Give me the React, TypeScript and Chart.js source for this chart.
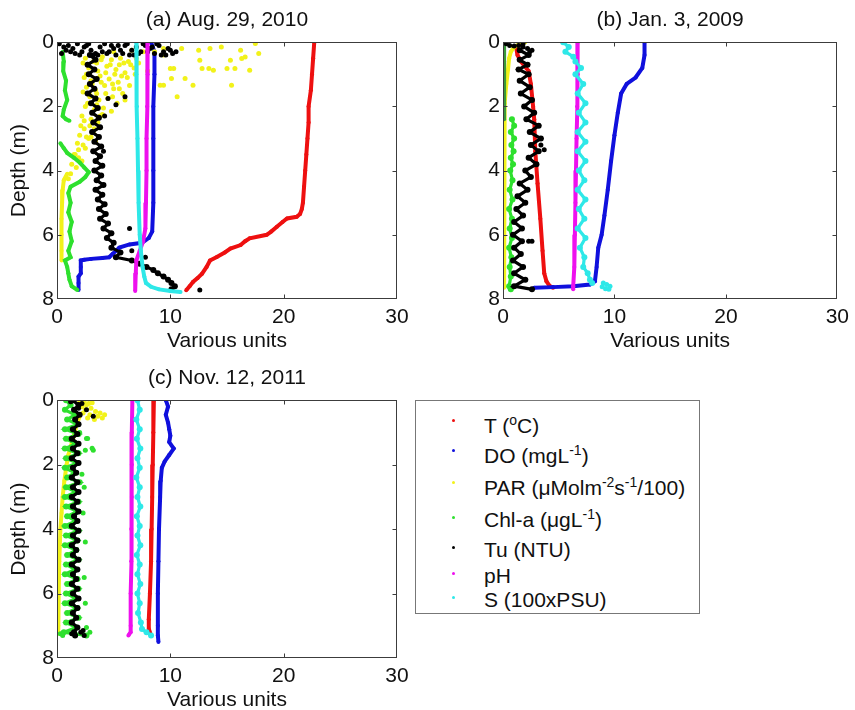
import React, { useEffect, useRef } from "react";
import { Chart, registerables } from "chart.js";
Chart.register(...registerables);

const FONT = '"Liberation Sans", Arial, Helvetica, sans-serif';

// ---------- axes ----------
const X_TICKS = [0, 10, 20, 30];
const Y_TICKS = [0, 2, 4, 6, 8];
const X_LABEL = "Various units";
const Y_LABEL = "Depth (m)";
const TITLES = ["(a) Aug. 29, 2010", "(b) Jan. 3, 2009", "(c) Nov. 12, 2011"];

// ---------- colours ----------
const C_T = "#ee1010";
const C_DO = "#1010dd";
const C_PAR = "#f2f21a";
const C_CHL = "#2ee02e";
const C_CHL_DARK = "#3a9a3a";
const C_TU = "#000000";
const C_PH = "#ee10ee";
const C_S = "#2ee8e8";

const LEGEND_COLORS = [C_T, C_DO, C_PAR, C_CHL, C_TU, C_PH, C_S];

// ================= Panel (a) Aug. 29, 2010 =================
const aT_depth = [0, 0.5, 1, 1.5, 2, 2.5, 3, 3.5, 4, 4.5, 5, 5.2, 5.35, 5.44, 5.49, 5.6, 5.75, 5.9, 6.0, 6.11, 6.2, 6.32, 6.43, 6.55, 6.69, 6.8, 7.0, 7.21, 7.35, 7.47, 7.6, 7.73];
const aT_val = [22.7, 22.6, 22.5, 22.4, 22.2, 22.2, 22.1, 22.0, 21.9, 21.8, 21.7, 21.6, 21.45, 21.15, 20.3, 19.9, 19.4, 18.9, 18.5, 17.0, 16.6, 16.2, 15.3, 14.8, 14.1, 13.5, 13.2, 12.8, 12.4, 12.0, 11.7, 11.4];

const aDO_depth = [0, 0.3, 1, 2, 3, 4, 5, 5.9, 6.1, 6.25, 6.3, 6.4, 6.5, 6.6, 6.7, 6.72, 6.75, 6.78, 6.8, 7.0, 7.2, 7.3, 7.5, 7.72];
const aDO_val = [8.3, 8.6, 8.6, 8.5, 8.5, 8.5, 8.5, 8.4, 8.1, 7.5, 6.4, 5.5, 5.2, 4.9, 4.6, 4.0, 3.0, 2.4, 2.1, 2.1, 2.1, 1.9, 1.9, 1.9];

const aPARline_depth = [4.1, 4.3, 4.6, 5.0, 5.5, 6.0, 6.5, 6.8];
const aPARline_val = [0.9, 0.6, 0.5, 0.45, 0.4, 0.4, 0.4, 0.4];
const aPARdots_val = [2.5, 3.2, 4.0, 4.8, 5.6, 6.3, 7.0, 2.8, 3.6, 4.4, 5.2, 6.0, 6.8, 2.4, 3.0, 3.8, 4.6, 5.4, 6.2, 2.6, 3.4, 4.2, 5.0, 5.8, 2.9, 3.7, 4.5, 5.3, 2.5, 3.3, 4.1, 2.2, 3.0, 3.6, 2.4, 3.2, 2.0, 2.8, 2.3, 3.4, 1.9, 1.5, 1.9, 1.3, 1.7, 1.2, 1.0,
  8.6, 9.4, 9.1, 10.0, 10.6, 9.4, 10.3, 10.1, 11.0, 11.3, 12.0, 12.5, 12.6, 12.8, 13.4, 13.5, 13.8, 14.5, 15.0, 15.3, 15.4, 15.7, 16.2, 16.3, 16.6, 17.0, 17.5, 17.8, 9.4, 7.6, 8.0, 6.6, 5.0];
const aPARdots_depth = [0.5, 0.6, 0.45, 0.55, 0.5, 0.6, 0.5, 0.8, 0.9, 0.75, 0.85, 0.95, 0.8, 1.1, 1.2, 1.05, 1.15, 1.25, 1.1, 1.4, 1.5, 1.35, 1.45, 1.6, 1.7, 1.8, 1.75, 1.9, 2.0, 2.1, 2.05, 2.3, 2.4, 2.5, 2.7, 2.8, 2.9, 3.0, 3.2, 3.1, 3.35, 3.5, 3.6, 3.8, 3.9, 4.1, 4.25,
  0.3, 0.4, 1.34, 0.82, 1.7, 0.2, 0.82, 1.13, 0.2, 1.13, 1.34, 0.25, 0.56, 0.82, 0.82, 0.2, 0.87, 0.15, 0.82, 0.56, 1.34, 0.82, 0.25, 0.51, 0.46, 0.87, 0.04, 0.35, 1.34, 0.3, 0.9, 0.25, 0.3];
const aPARdots2_val = [2.3, 2.7, 3.5, 3.9, 4.3, 4.7, 5.1, 5.5, 5.9, 6.5, 6.9, 7.2, 2.6, 3.1, 3.9, 4.9, 5.7, 6.4, 2.3, 2.9, 3.5, 4.3, 4.9, 5.5, 6.0, 2.7, 3.5, 4.0, 4.8, 2.4, 2.9, 3.8, 2.1, 2.6, 3.3, 1.8, 2.5, 3.0, 1.6, 2.2];
const aPARdots2_depth = [0.65, 0.7, 0.65, 0.55, 0.95, 0.7, 1.0, 0.7, 0.65, 0.7, 1.0, 0.65, 1.0, 1.3, 1.25, 1.3, 1.05, 1.35, 1.55, 1.65, 1.6, 1.6, 1.7, 1.45, 1.8, 1.9, 1.95, 2.25, 2.15, 2.45, 2.6, 2.3, 2.6, 2.95, 2.7, 3.15, 3.3, 2.95, 3.5, 3.7];

const aChl_depth = [0.3, 0.6, 0.9, 1.2, 1.5, 1.8, 2.1, 2.3, 2.4, 2.45, null, 3.15, 3.3, 3.45, 3.6, 3.75, 3.9, 4.05, 4.2, 4.35, 4.5, 4.7, 5.0, 5.3, 5.6, 5.9, 6.2, 6.5, 6.7, 6.8, 7.0, 7.2, 7.4, 7.6, 7.72];
const aChl_val = [0.5, 0.6, 0.55, 0.8, 0.7, 0.9, 0.6, 0.5, 0.8, 1.1, null, 0.3, 0.6, 0.9, 1.5, 2.0, 2.4, 2.8, 2.5, 2.0, 1.2, 1.0, 1.2, 1.0, 1.3, 1.1, 1.3, 1.0, 1.2, 0.7, 0.9, 1.0, 1.1, 1.3, 1.8];

const aTuTop_val = [0.2, 0.6, 1.0, 1.4, 1.8, 2.2, 2.6, 3.0, 3.4, 3.8, 4.2, 4.6, 5.0, 5.4, 5.8, 6.2, 6.6, 7.0, 7.4, 7.8, 8.2, 8.6, 9.0, 9.4, 9.8, 10.2, 10.5,
  0.4, 1.2, 2.0, 2.8, 3.6, 4.4, 5.2, 6.0, 6.8, 7.6, 8.4, 9.2, 10.0,
  0.8, 1.6, 2.4, 3.2, 4.0, 4.8, 5.6, 6.4, 7.2, 8.0, 8.8, 9.6];
const aTuTop_depth = [0.05, 0.15, 0.1, 0.2, 0.05, 0.3, 0.1, 0.25, 0.35, 0.15, 0.05, 0.3, 0.2, 0.1, 0.35, 0.05, 0.25, 0.15, 0.3, 0.1, 0.2, 0.35, 0.1, 0.3, 0.2, 0.35, 0.3,
  0.35, 0.3, 0.4, 0.05, 0.4, 0.35, 0.4, 0.1, 0.4, 0.05, 0.15, 0.4, 0.25,
  0.25, 0.35, 0.15, 0.4, 0.3, 0.1, 0.25, 0.4, 0.35, 0.3, 0.05, 0.4];
const aTu_depth = [0.4, 0.55, 0.7, 0.85, 1.0, 1.15, 1.3, 1.45, 1.6, 1.75, 1.9, 2.05, 2.2, 2.35, 2.5, 2.65, 2.8, 2.95, 3.1, 3.25, 3.4, 3.55, 3.7, 3.85, 4.0, 4.15, 4.3, 4.45, 4.6, 4.75, 4.9, 5.05, 5.2, 5.35, 5.5, 5.65, 5.8, 5.95, 6.1, 6.25, 6.4, 6.55, 6.7, 6.8, 6.9, 7.0, 7.1, 7.2, 7.3, 7.4, 7.5, 7.6, 7.7];
const aTu_val = [2.9, 3.4, 2.7, 3.3, 2.8, 3.5, 2.9, 3.3, 2.7, 3.4, 3.0, 3.6, 3.1, 3.7, 3.2, 3.8, 3.1, 3.7, 3.3, 3.9, 3.2, 3.8, 3.4, 4.0, 3.3, 3.9, 3.5, 4.1, 3.4, 4.0, 3.6, 4.2, 3.7, 4.3, 3.8, 4.5, 4.1, 4.8, 4.4, 5.0, 4.8, 5.6, 5.2, 6.6, 7.3, 7.9, 8.5, 8.9, 9.4, 9.8, 10.1, 10.4, 10.1];
const aTuDots_val = [4.5, 6.0, 4.2, 4.1, 6.4, 6.6, 12.6, 5.2, 7.8];
const aTuDots_depth = [1.75, 1.7, 2.3, 3.4, 5.8, 6.5, 7.72, 1.95, 6.7];

const apH_depth = [0, 1, 2, 3, 4, 5, 5.8, 6.2, 6.5, 6.8, 7.2, 7.75];
const apH_val = [8.0, 8.0, 7.95, 7.9, 7.9, 7.85, 7.8, 7.6, 7.3, 7.0, 6.95, 6.9];

const aS_depth = [0, 1, 2, 3, 4, 5, 6, 6.5, 7, 7.3, 7.5, 7.62, 7.7, 7.75, 7.78];
const aS_val = [7.0, 7.0, 7.05, 7.1, 7.15, 7.2, 7.3, 7.4, 7.55, 7.7, 7.85, 8.3, 9.0, 10.0, 10.9];

// ================= Panel (b) Jan. 3, 2009 =================
const bT_depth = [0.2, 0.4, 0.6, 0.9, 1.3, 2.0, 2.4, 3.4, 4.4, 5.5, 6.5, 7.2, 7.45, 7.6, 7.65];
const bT_val = [1.2, 1.3, 1.6, 2.3, 2.5, 2.7, 2.8, 2.9, 3.1, 3.35, 3.55, 3.7, 3.9, 4.2, 4.5];

const bDO_depth = [0, 0.4, 0.8, 1.1, 1.3, 1.6, 2.2, 2.9, 3.7, 4.6, 5.4, 6.0, 6.4, 7.0, 7.45, 7.55, 7.6, 7.63, 7.65];
const bDO_val = [12.7, 12.7, 12.5, 11.9, 11.1, 10.6, 10.3, 10.0, 9.7, 9.4, 9.1, 8.85, 8.55, 8.4, 8.25, 7.8, 6.3, 4.5, 2.8];

const bPAR_depth = [0, 0.05, 0.15, 0.3, 0.5, 0.85, 1.3, 1.9, 3, 4, 5, 6, 7, 7.65];
const bPAR_val = [2.0, 1.5, 1.0, 0.7, 0.55, 0.45, 0.3, 0.15, 0.1, 0.1, 0.1, 0.1, 0.1, 0.1];

const bChlTop_depth = [0, 0.6, 1.2, 1.8, 2.4];
const bChlTop_val = [0.1, 0.1, 0.1, 0.1, 0.1];
const bChl_depth = [2.4, 2.6, 2.8, 3.0, 3.2, 3.4, 3.6, 3.8, 4.0, 4.3, 4.6, 4.9, 5.2, 5.5, 5.8, 6.1, 6.4, 6.7, 7.0, 7.3, 7.6, 7.7];
const bChl_val = [0.8, 1.0, 0.7, 1.0, 0.75, 0.95, 0.7, 0.9, 0.65, 0.85, 0.6, 0.85, 0.55, 0.8, 0.6, 0.8, 0.55, 0.75, 0.6, 0.7, 0.55, 0.7];

const bTu_depth = [0.25, 0.4, 0.55, 0.7, 0.85, 1.0, 1.2, 1.4, 1.6, 1.8, 2.0, 2.2, 2.4, 2.6, 2.8, 3.0, 3.2, 3.4, 3.6, 3.8, 4.0, 4.2, 4.4, 4.6, 4.8, 5.0, 5.2, 5.4, 5.6, 5.8, 6.0, 6.2, 6.4, 6.6, 6.8, 7.0, 7.2, 7.4, 7.6, 7.7];
const bTu_val = [1.5, 2.3, 1.5, 2.2, 1.4, 2.3, 1.5, 2.4, 1.6, 2.6, 1.9, 2.8, 2.1, 3.2, 2.4, 3.4, 2.5, 3.2, 2.3, 3.0, 2.0, 2.5, 1.5, 2.2, 1.3, 2.0, 1.2, 1.8, 1.0, 1.7, 0.9, 1.7, 1.0, 1.6, 0.9, 1.8, 1.0, 2.0, 1.0, 2.6];
const bTuDots_val = [0.1, 0.3, 0.6, 1.0, 1.4, 1.8, 2.2, 2.6, 2.4, 2.3, 2.6, 1.8, 3.7, 3.4];
const bTuDots_depth = [0.0, 0.05, 0.1, 0.12, 0.1, 0.15, 0.2, 0.25, 0.3, 6.2, 6.2, 0.05, 3.35, 3.2];

const bpH_depth = [0, 1, 2, 3, 4, 5, 6, 7, 7.6, 7.7];
const bpH_val = [6.7, 6.7, 6.65, 6.6, 6.55, 6.5, 6.45, 6.4, 6.3, 6.3];

const bS_depth = [0, 0.15, 0.3, 0.45, 0.6, 0.8, 1.0, 1.3, 1.6, 1.9, 2.2, 2.5, 2.8, 3.1, 3.4, 3.7, 4.0, 4.3, 4.6, 4.9, 5.2, 5.5, 5.8, 6.1, 6.4, 6.7, 7.0, 7.2, 7.4, 7.5];
const bS_val = [5.4, 5.9, 5.6, 6.3, 6.5, 7.0, 6.5, 7.2, 6.7, 7.4, 6.8, 7.4, 6.7, 7.4, 6.7, 7.4, 6.8, 7.3, 6.7, 7.4, 6.8, 7.3, 6.7, 7.4, 6.9, 7.3, 7.2, 7.6, 7.8, 8.0];
const bSDots_val = [9.0, 9.3, 9.6, 9.2, 9.5, 8.9];
const bSDots_depth = [7.5, 7.55, 7.6, 7.68, 7.7, 7.62];

// ================= Panel (c) Nov. 12, 2011 =================
const cT_depth = [0, 1, 2, 3, 4, 5, 6, 6.8, 7.1, 7.3];
const cT_val = [8.55, 8.5, 8.45, 8.4, 8.35, 8.3, 8.2, 8.1, 8.1, 8.3];

const cDO_depth = [0, 0.2, 0.45, 0.7, 0.9, 1.1, 1.3, 1.5, 1.7, 1.9, 2.1, 2.5, 3, 4, 5, 6, 7, 7.3, 7.5];
const cDO_val = [9.6, 9.8, 9.6, 9.8, 9.9, 10.0, 9.9, 10.3, 9.9, 9.5, 9.25, 9.15, 9.1, 9.0, 8.95, 8.9, 8.9, 8.9, 8.95];

const cPAR_depth = [0.5, 0.8, 1.1, 1.4, 1.7, 2.0, 2.5, 3.0, 3.5, 4.0, 5.0, 6.0, 7.0, 7.25];
const cPAR_val = [2.0, 1.7, 1.5, 1.25, 1.0, 0.85, 0.65, 0.5, 0.4, 0.3, 0.2, 0.15, 0.12, 0.1];
const cPARDots_val = [2.0, 2.4, 2.8, 3.1, 2.6, 2.2, 3.0, 2.5, 3.4, 3.8, 4.2, 3.6, 4.0, 2.9, 2.3, 3.3, 2.7];
const cPARDots_depth = [0.02, 0.05, 0.1, 0.08, 0.15, 0.2, 0.25, 0.3, 0.35, 0.4, 0.45, 0.5, 0.55, 0.45, 0.4, 0.6, 0.55];

const cProfile_depth = [0, 0.15, 0.3, 0.45, 0.6, 0.75, 0.9, 1.05, 1.2, 1.35, 1.5, 1.65, 1.8, 1.95, 2.1, 2.25, 2.4, 2.55, 2.7, 2.85, 3.0, 3.15, 3.3, 3.45, 3.6, 3.75, 3.9, 4.05, 4.2, 4.35, 4.5, 4.65, 4.8, 4.95, 5.1, 5.25, 5.4, 5.55, 5.7, 5.85, 6.0, 6.15, 6.3, 6.45, 6.6, 6.75, 6.9, 7.05, 7.2, 7.3];
const cChl_val = [0.8, 1.2, 0.7, 1.6, 0.9, 1.8, 0.7, 1.9, 0.8, 1.7, 0.7, 1.9, 0.8, 1.8, 0.7, 1.6, 0.9, 2.0, 0.8, 1.7, 0.7, 1.9, 0.8, 1.8, 0.9, 1.7, 0.7, 1.9, 0.8, 1.8, 0.7, 1.7, 0.9, 1.9, 0.8, 1.6, 0.7, 1.8, 0.9, 1.9, 0.8, 1.7, 0.7, 1.8, 0.9, 1.9, 0.8, 1.7, 0.6, 2.6];
const cChlDots_val = [2.6, 3.1, 2.5, 3.2, 2.7, 2.4, 2.2, 2.3, 2.5, 2.4, 2.5, 2.6, 2.9, 0.3, 0.5, 2.2, 2.0];
const cChlDots_depth = [1.19, 1.49, 1.55, 1.55, 1.19, 2.7, 2.3, 3.5, 4.4, 5.5, 6.3, 7.05, 7.2, 7.25, 7.3, 7.25, 1.0];
const cTu_val = [1.4, 1.9, 1.5, 2.0, 1.6, 1.9, 1.4, 1.8, 1.3, 1.9, 1.4, 1.8, 1.3, 1.9, 1.4, 1.7, 1.3, 1.8, 1.4, 1.9, 1.3, 1.8, 1.4, 1.9, 1.5, 1.8, 1.3, 1.9, 1.4, 1.8, 1.3, 1.7, 1.4, 1.9, 1.3, 1.8, 1.4, 1.7, 1.3, 1.8, 1.4, 1.9, 1.3, 1.8, 1.4, 1.7, 1.3, 1.8, 1.5, 1.6];
const cTuDots_val = [1.2, 2.2, 2.6, 3.2, 1.3, 1.6, 2.1, 2.4, 1.9, 2.3];
const cTuDots_depth = [0.05, 0.1, 0.3, 0.5, 7.25, 7.3, 7.2, 7.3, 0.25, 7.15];

const cpH_depth = [0, 1, 2, 3, 4, 5, 6, 7, 7.2, 7.3];
const cpH_val = [6.65, 6.6, 6.6, 6.6, 6.55, 6.55, 6.5, 6.5, 6.5, 6.3];

const cS_depth = [0, 0.3, 0.6, 0.9, 1.2, 1.5, 1.8, 2.1, 2.4, 2.7, 3.0, 3.3, 3.6, 3.9, 4.2, 4.5, 4.8, 5.1, 5.4, 5.7, 6.0, 6.3, 6.6, 6.9, 7.1, 7.2, 7.3];
const cS_val = [7.1, 7.3, 7.0, 7.3, 7.05, 7.35, 7.1, 7.3, 7.0, 7.3, 7.1, 7.35, 7.05, 7.3, 7.1, 7.35, 7.05, 7.3, 7.1, 7.35, 7.1, 7.3, 7.15, 7.4, 7.5, 7.9, 8.3];

// ---------- layer description ----------
type Kind = "line" | "band" | "dots";
type Layer = { depth: (number | null)[]; val: (number | null)[]; color: string; kind: Kind };
const L = (depth: (number | null)[], val: (number | null)[], color: string, kind: Kind): Layer => ({ depth, val, color, kind });

const PANEL_A: Layer[] = [
  L(aT_depth, aT_val, C_T, "line"),
  L(aDO_depth, aDO_val, C_DO, "line"),
  L(aPARdots_depth, aPARdots_val, C_PAR, "dots"),
  L(aPARdots2_depth, aPARdots2_val, C_PAR, "dots"),
  L(aPARline_depth, aPARline_val, C_PAR, "line"),
  L(aChl_depth, aChl_val, C_CHL, "line"),
  L(aTuTop_depth, aTuTop_val, C_TU, "dots"),
  L(aTu_depth, aTu_val, C_TU, "band"),
  L(aTuDots_depth, aTuDots_val, C_TU, "dots"),
  L(apH_depth, apH_val, C_PH, "line"),
  L(aS_depth, aS_val, C_S, "line"),
];
const PANEL_B: Layer[] = [
  L(bT_depth, bT_val, C_T, "line"),
  L(bDO_depth, bDO_val, C_DO, "line"),
  L(bPAR_depth, bPAR_val, C_PAR, "line"),
  L(bChlTop_depth, bChlTop_val, C_CHL_DARK, "line"),
  L(bChl_depth, bChl_val, C_CHL, "band"),
  L(bTu_depth, bTu_val, C_TU, "band"),
  L(bTuDots_depth, bTuDots_val, C_TU, "dots"),
  L(bpH_depth, bpH_val, C_PH, "line"),
  L(bS_depth, bS_val, C_S, "band"),
  L(bSDots_depth, bSDots_val, C_S, "dots"),
];
const PANEL_C: Layer[] = [
  L(cT_depth, cT_val, C_T, "line"),
  L(cDO_depth, cDO_val, C_DO, "line"),
  L(cPAR_depth, cPAR_val, C_PAR, "line"),
  L(cPARDots_depth, cPARDots_val, C_PAR, "dots"),
  L(cProfile_depth, cChl_val, C_CHL, "band"),
  L(cChlDots_depth, cChlDots_val, C_CHL, "dots"),
  L(cProfile_depth, cTu_val, C_TU, "band"),
  L(cTuDots_depth, cTuDots_val, C_TU, "dots"),
  L(cpH_depth, cpH_val, C_PH, "line"),
  L(cS_depth, cS_val, C_S, "band"),
];

const STYLE: Record<Kind, { showLine: boolean; borderWidth: number; pointRadius: number }> = {
  line: { showLine: true, borderWidth: 4, pointRadius: 2 },
  band: { showLine: true, borderWidth: 3.2, pointRadius: 3 },
  dots: { showLine: false, borderWidth: 0, pointRadius: 2.5 },
};

const framePlugin = {
  id: "matlabFrame",
  afterDatasetsDraw(chart: any) {
    const { ctx, chartArea, scales } = chart;
    const l = Math.round(chartArea.left) + 0.5;
    const r = Math.round(chartArea.right) - 0.5;
    const t = Math.round(chartArea.top) + 0.5;
    const b = Math.round(chartArea.bottom) - 0.5;
    const TL = 4;
    ctx.save();
    ctx.strokeStyle = "#3c3c3c";
    ctx.lineWidth = 1;
    ctx.strokeRect(l, t, r - l, b - t);
    ctx.beginPath();
    X_TICKS.slice(1, -1).forEach((v) => {
      const px = Math.round(scales.x.getPixelForValue(v)) + 0.5;
      ctx.moveTo(px, b); ctx.lineTo(px, b - TL);
      ctx.moveTo(px, t); ctx.lineTo(px, t + TL);
    });
    Y_TICKS.slice(1, -1).forEach((v) => {
      const py = Math.round(scales.y.getPixelForValue(v)) + 0.5;
      ctx.moveTo(l, py); ctx.lineTo(l + TL, py);
      ctx.moveTo(r, py); ctx.lineTo(r - TL, py);
    });
    ctx.stroke();
    ctx.restore();
  },
};

type PanelProps = { layers: Layer[]; title: string; showYTitle: boolean; left: number; top: number; width: number; height: number; yAxisWidth: number; padRight: number };

function Panel({ layers, title, showYTitle, left, top, width, height, yAxisWidth, padRight }: PanelProps) {
  const ref = useRef<HTMLCanvasElement | null>(null);
  useEffect(() => {
    if (!ref.current) return;
    const n = layers.length;
    const datasets = layers.map((ly, i) => {
      const st = STYLE[ly.kind];
      return {
        data: ly.depth.map((d, k) => ({ x: ly.val[k], y: d })),
        showLine: st.showLine,
        borderColor: ly.color,
        backgroundColor: ly.color,
        borderWidth: st.borderWidth,
        pointRadius: st.pointRadius,
        pointBorderWidth: 0,
        pointBackgroundColor: ly.color,
        spanGaps: false,
        order: n - i,
      };
    });
    const tickFont = { family: FONT, size: 21 };
    const chart = new Chart(ref.current, {
      type: "scatter",
      data: { datasets: datasets as any },
      options: {
        responsive: false,
        animation: false,
        events: [],
        layout: { padding: { left: 0, right: padRight, top: 0, bottom: 0 } },
        plugins: {
          legend: { display: false },
          tooltip: { enabled: false },
          title: {
            display: true,
            text: title,
            fullSize: false,
            color: "#111",
            font: { family: FONT, size: 21, weight: "normal" },
            padding: { top: 8, bottom: 9 },
          },
        },
        scales: {
          x: {
            type: "linear",
            min: X_TICKS[0],
            max: X_TICKS[X_TICKS.length - 1],
            grid: { display: false, drawTicks: false },
            border: { display: false },
            afterBuildTicks: (s: any) => { s.ticks = X_TICKS.map((v) => ({ value: v })); },
            ticks: { color: "#111", font: tickFont, padding: 6, maxRotation: 0, autoSkip: false },
            title: { display: true, text: X_LABEL, color: "#111", font: tickFont, padding: { top: 0, bottom: 6 } },
            afterFit: (s: any) => { s.height = 61; },
          },
          y: {
            type: "linear",
            reverse: true,
            min: Y_TICKS[0],
            max: Y_TICKS[Y_TICKS.length - 1],
            grid: { display: false, drawTicks: false },
            border: { display: false },
            afterBuildTicks: (s: any) => { s.ticks = Y_TICKS.map((v) => ({ value: v })); },
            ticks: { color: "#111", font: tickFont, padding: 3, autoSkip: false },
            title: { display: showYTitle, text: Y_LABEL, color: "#111", font: tickFont, padding: { top: 7, bottom: 0 } },
            afterFit: (s: any) => { s.width = yAxisWidth; },
          },
        },
      } as any,
      plugins: [framePlugin],
    });
    return () => chart.destroy();
  }, []);
  return (
    <canvas
      ref={ref}
      width={width}
      height={height}
      style={{ position: "absolute", left, top, width, height }}
    />
  );
}

const LEGEND_ROW_TOPS = [414, 444, 476, 508, 538, 564, 588];
const LEGEND_DOT_Y = [420, 450, 482, 517, 547, 573, 597];

const supStyle: React.CSSProperties = { fontSize: 14, lineHeight: 0, position: "relative", top: -8, verticalAlign: "baseline" };

const LEGEND_LABELS: React.ReactNode[] = [
  <>T (<span style={supStyle}>o</span>C)</>,
  <>DO (mgL<span style={supStyle}>-1</span>)</>,
  <>PAR (μMolm<span style={supStyle}>-2</span>s<span style={supStyle}>-1</span>/100)</>,
  <>Chl-a (μgL<span style={supStyle}>-1</span>)</>,
  <>Tu (NTU)</>,
  <>pH</>,
  <>S (100xPSU)</>,
];

export default function App() {
  return (
    <div style={{ position: "absolute", left: 0, top: 0, width: 855, height: 710, background: "#fff", overflow: "hidden" }}>
      <Panel layers={PANEL_A} title={TITLES[0]} showYTitle={true} left={0} top={0} width={420} height={360} yAxisWidth={57} padRight={23} />
      <Panel layers={PANEL_B} title={TITLES[1]} showYTitle={false} left={440} top={0} width={415} height={360} yAxisWidth={63} padRight={13} />
      <Panel layers={PANEL_C} title={TITLES[2]} showYTitle={true} left={0} top={358} width={420} height={361} yAxisWidth={57} padRight={23} />
      <div style={{ position: "absolute", left: 415, top: 400, width: 285, height: 214, boxSizing: "border-box", border: "1px solid #777", background: "#fff" }} />
      {LEGEND_LABELS.map((lab, i) => (
        <React.Fragment key={i}>
          <div style={{ position: "absolute", left: 452, top: LEGEND_DOT_Y[i] - 1.5, width: 3, height: 3, borderRadius: 2, background: LEGEND_COLORS[i] }} />
          <div style={{ position: "absolute", left: 484, top: LEGEND_ROW_TOPS[i], fontFamily: FONT, fontSize: 21, lineHeight: "24px", color: "#111", whiteSpace: "nowrap" }}>{lab}</div>
        </React.Fragment>
      ))}
    </div>
  );
}
